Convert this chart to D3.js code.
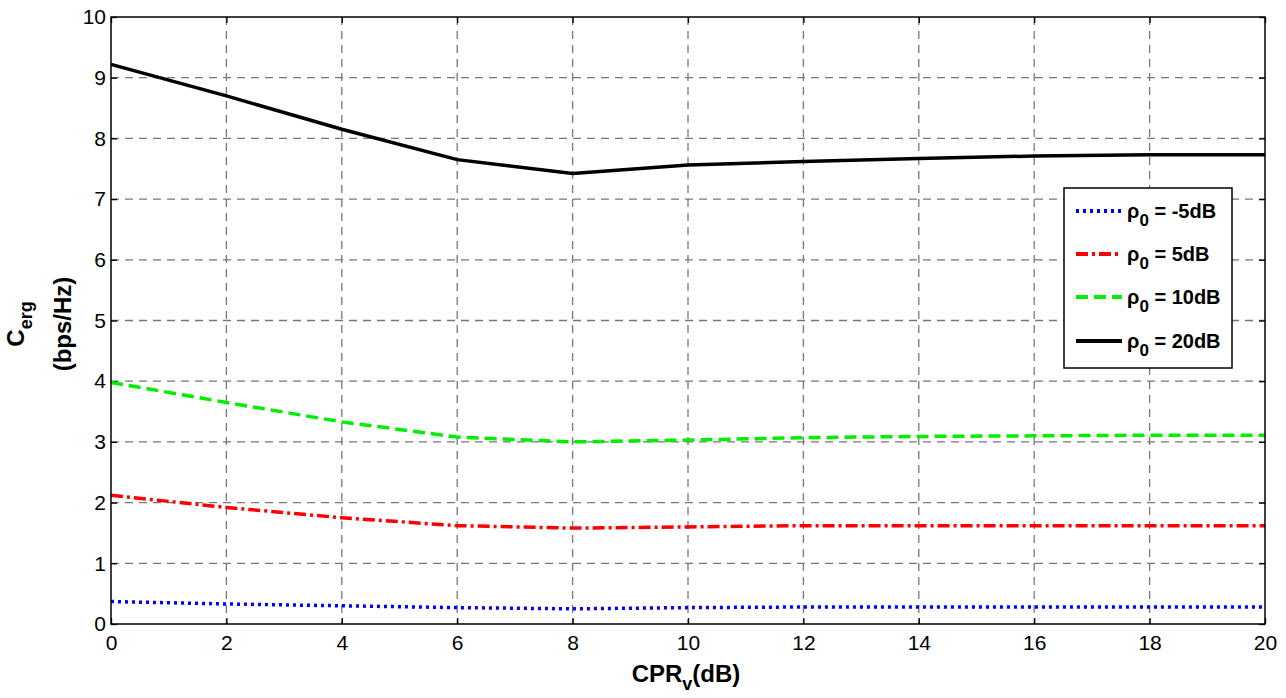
<!DOCTYPE html>
<html>
<head>
<meta charset="utf-8">
<script src="https://d3js.org/d3.v7.min.js"></script>
<style>
  body { margin: 0; background: #fff; }
  svg text { font-family: Arial, "Liberation Sans", sans-serif; }
</style>
</head>
<body>
<svg width="1286" height="698"></svg>
<script>
// CPR_v in dB
var cpr = [0, 2, 4, 6, 8, 10, 12, 14, 16, 18, 20];

// ergodic capacity (bps/Hz) per rho_0
var capM5 = [0.37, 0.33, 0.30, 0.27, 0.25, 0.27, 0.28, 0.28, 0.28, 0.28, 0.28];
var cap5 = [2.12, 1.92, 1.75, 1.62, 1.58, 1.60, 1.62, 1.62, 1.62, 1.62, 1.62];
var cap10 = [3.98, 3.65, 3.33, 3.08, 3.00, 3.03, 3.07, 3.09, 3.10, 3.11, 3.11];
var cap20 = [9.22, 8.70, 8.15, 7.65, 7.42, 7.56, 7.62, 7.67, 7.71, 7.73, 7.73];

var seriesNames = ["-5dB", "5dB", "10dB", "20dB"];
var xTicks = [0, 2, 4, 6, 8, 10, 12, 14, 16, 18, 20];
var yTicks = [0, 1, 2, 3, 4, 5, 6, 7, 8, 9, 10];

var series = [
  { name: seriesNames[0], values: capM5, color: "#0000ff", dash: "3,4" },
  { name: seriesNames[1], values: cap5, color: "#ff0000", dash: "12,4,3,4" },
  { name: seriesNames[2], values: cap10, color: "#00ee00", dash: "12,6" },
  { name: seriesNames[3], values: cap20, color: "#000000", dash: null }
];

var svg = d3.select("svg");
var pl = 111, pr = 1265, pt = 17, pb = 624;

var x = d3.scaleLinear().domain([0, 20]).range([pl, pr]);
var y = d3.scaleLinear().domain([0, 10]).range([pb, pt]);

// grid
var grid = svg.append("g");
grid.selectAll(".gx").data(xTicks.slice(1, -1)).enter().append("line")
  .attr("x1", d => x(d)).attr("x2", d => x(d))
  .attr("y1", pt).attr("y2", pb)
  .attr("stroke", "#777").attr("stroke-width", 1.3)
  .attr("stroke-dasharray", "8,6");
grid.selectAll(".gy").data(yTicks.slice(1, -1)).enter().append("line")
  .attr("x1", pl).attr("x2", pr)
  .attr("y1", d => y(d)).attr("y2", d => y(d))
  .attr("stroke", "#777").attr("stroke-width", 1.3)
  .attr("stroke-dasharray", "8,6");

// axes with inward ticks, mirrored on the opposite sides
svg.append("g").attr("transform", "translate(0," + pb + ")")
  .call(d3.axisBottom(x).tickValues(xTicks).tickSize(-6).tickPadding(11))
  .call(g => g.select(".domain").remove());
svg.append("g").attr("transform", "translate(0," + pt + ")")
  .call(d3.axisTop(x).tickValues(xTicks).tickSize(-6).tickFormat(""))
  .call(g => g.select(".domain").remove());
svg.append("g").attr("transform", "translate(" + pl + ",0)")
  .call(d3.axisLeft(y).tickValues(yTicks).tickSize(-6).tickPadding(5))
  .call(g => g.select(".domain").remove());
svg.append("g").attr("transform", "translate(" + pr + ",0)")
  .call(d3.axisRight(y).tickValues(yTicks).tickSize(-6).tickFormat(""))
  .call(g => g.select(".domain").remove());

svg.selectAll(".tick line").attr("stroke", "#000").attr("stroke-width", 1.3);
svg.selectAll(".tick text").attr("font-size", 21).attr("fill", "#000")
  .style("font-family", "Arial, 'Liberation Sans', sans-serif");

// lines
var line = d3.line().x((d, i) => x(cpr[i])).y(d => y(d));
series.forEach(function(s) {
  svg.append("path")
    .datum(s.values)
    .attr("d", line)
    .attr("fill", "none")
    .attr("stroke", s.color)
    .attr("stroke-width", 3.5)
    .attr("stroke-dasharray", s.dash);
});

// plot box
svg.append("rect")
  .attr("x", pl).attr("y", pt)
  .attr("width", pr - pl).attr("height", pb - pt)
  .attr("fill", "none").attr("stroke", "#000").attr("stroke-width", 1.5);

// axis labels
var xl = svg.append("text")
  .attr("x", 686).attr("y", 682)
  .attr("text-anchor", "middle")
  .attr("font-size", 24).attr("font-weight", "bold");
xl.append("tspan").text("CPR");
xl.append("tspan").attr("font-size", 18).attr("dy", 8).text("v");
xl.append("tspan").attr("dy", -8).text("(dB)");

var yl = svg.append("g").attr("transform", "translate(24,324) rotate(-90)");
var yl1 = yl.append("text").attr("text-anchor", "middle")
  .attr("font-size", 24).attr("font-weight", "bold");
yl1.append("tspan").text("C");
yl1.append("tspan").attr("font-size", 18).attr("dy", 8).text("erg");
yl.append("text").attr("text-anchor", "middle").attr("y", 47)
  .attr("font-size", 24).attr("font-weight", "bold").text("(bps/Hz)");

// legend
var lg = svg.append("g");
lg.append("rect")
  .attr("x", 1064).attr("y", 188).attr("width", 168).attr("height", 180)
  .attr("fill", "#fff").attr("stroke", "#000").attr("stroke-width", 1.5);
var rowY = [211, 254, 297, 341];
series.forEach(function(s, i) {
  lg.append("line")
    .attr("x1", 1076).attr("x2", 1122)
    .attr("y1", rowY[i]).attr("y2", rowY[i])
    .attr("stroke", s.color).attr("stroke-width", 4)
    .attr("stroke-dasharray", s.dash);
  var t = lg.append("text")
    .attr("x", 1127).attr("y", rowY[i] + 7)
    .attr("font-size", 20).attr("font-weight", "bold");
  t.append("tspan").text("\u03c1");
  t.append("tspan").attr("font-size", 17).attr("dy", 8).text("0");
  t.append("tspan").attr("dy", -8).text(" = " + s.name);
});
</script>
</body>
</html>
